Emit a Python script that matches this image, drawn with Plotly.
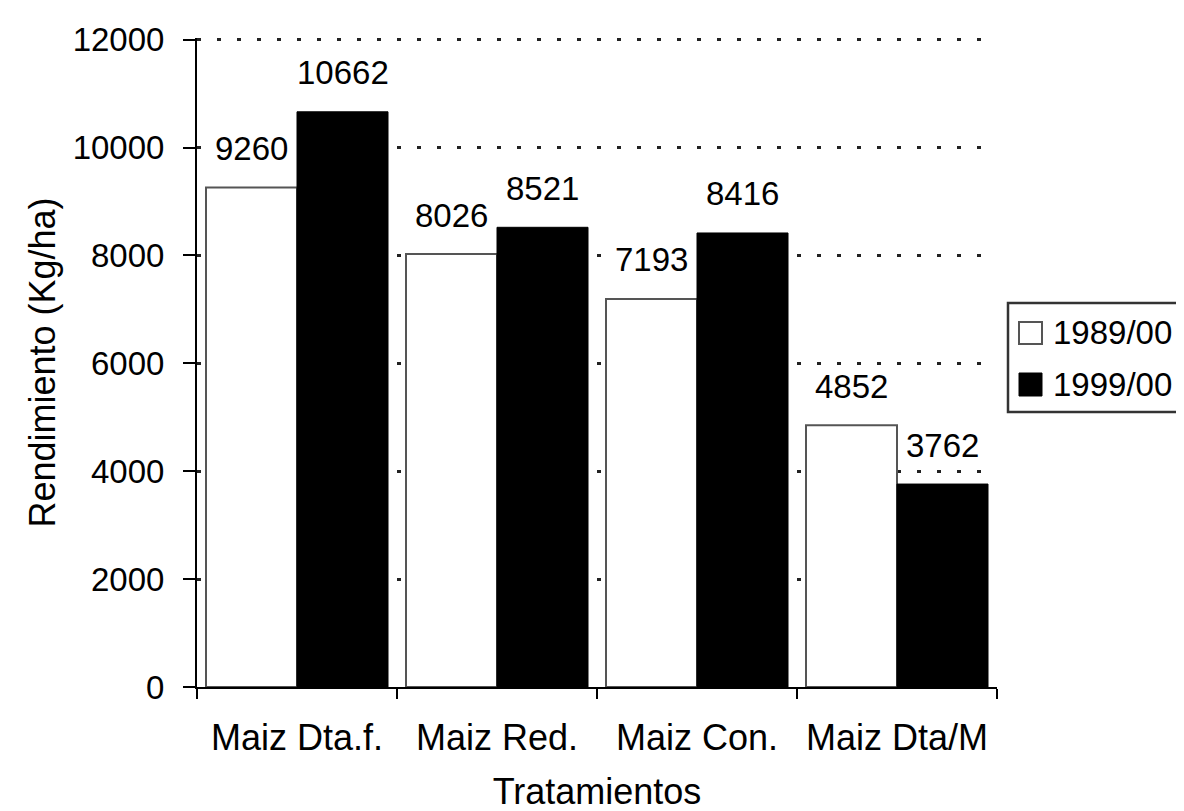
import plotly.graph_objects as go

# ---- data ----
categories = ["Maiz Dta.f.", "Maiz Red.", "Maiz Con.", "Maiz Dta/M"]
series_names = ["1989/00", "1999/00"]
values_1989 = [9260, 8026, 7193, 4852]
values_1999 = [10662, 8521, 8416, 3762]
y_ticks = [0, 2000, 4000, 6000, 8000, 10000, 12000]
y_tick_labels = ["0", "2000", "4000", "6000", "8000", "10000", "12000"]
x_title = "Tratamientos"
y_title = "Rendimiento (Kg/ha)"

# ---- style ----
FONT = "Liberation Sans, Arial, Helvetica, sans-serif"
W, H = 1184, 811
PAGE_OFF = 8  # default body margin of the html page
# target plot area in page pixels: x 197..997, y 38..687
L = 197 - PAGE_OFF
T = 38 - PAGE_OFF
R = W - (997 - PAGE_OFF)
B = H - (687 - PAGE_OFF)
Y_MAX = 12030
BARGAP = 0.09
WHITE_EDGE = "#555555"


def px_x(px):
    return (px - PAGE_OFF - L) / (W - L - R)


def px_y(py):
    return (H - B - (py - PAGE_OFF)) / (H - T - B)


fig = go.Figure()
fig.add_trace(go.Bar(
    x=categories, y=values_1989, name=series_names[0],
    marker=dict(color="white", line=dict(color=WHITE_EDGE, width=2)),
    showlegend=False,
))
fig.add_trace(go.Bar(
    x=categories, y=values_1999, name=series_names[1],
    marker=dict(color="black", line=dict(color="black", width=1)),
    showlegend=False,
))

# value labels above bars
half = (1 - BARGAP) / 4
for i in range(len(categories)):
    for off, vals in ((-half, values_1989), (half, values_1999)):
        fig.add_annotation(
            x=i + off, y=vals[i], xref="x", yref="y",
            text=str(vals[i]), showarrow=False,
            yanchor="middle", yshift=39,
            bgcolor="white", borderpad=0,
            font=dict(size=33, color="black", family=FONT),
        )

# legend (drawn manually to match the large square swatches)
shapes = [
    dict(type="rect", xref="paper", yref="paper",
         x0=px_x(1008), x1=px_x(1210), y0=px_y(412), y1=px_y(303),
         line=dict(color="#333333", width=2.5), fillcolor="white", layer="above"),
    dict(type="rect", xref="paper", yref="paper",
         x0=px_x(1019), x1=px_x(1042), y0=px_y(344), y1=px_y(322),
         line=dict(color=WHITE_EDGE, width=2), fillcolor="white", layer="above"),
    dict(type="rect", xref="paper", yref="paper",
         x0=px_x(1019), x1=px_x(1042), y0=px_y(396), y1=px_y(373),
         line=dict(color="black", width=1), fillcolor="black", layer="above"),
]
for name, cy in zip(series_names, (332, 384)):
    fig.add_annotation(
        x=px_x(1051), y=px_y(cy), xref="paper", yref="paper",
        text=name, showarrow=False, xanchor="left", yanchor="middle",
        font=dict(size=33, color="black", family=FONT),
    )

fig.update_layout(
    width=W, height=H,
    margin=dict(l=L, r=R, t=T, b=B, pad=0),
    paper_bgcolor="white", plot_bgcolor="white",
    barmode="group", bargap=BARGAP, bargroupgap=0,
    font=dict(family=FONT, color="black"),
    shapes=shapes,
    xaxis=dict(
        type="category", automargin=False,
        showline=True, linecolor="black", linewidth=2,
        ticks="outside", tickson="boundaries", ticklen=10, tickwidth=2, tickcolor="black",
        tickfont=dict(size=36, color="black", family=FONT),
        ticklabelstandoff=18,
        showgrid=False, zeroline=False,
        title=dict(text=x_title, font=dict(size=36, color="black", family=FONT), standoff=22),
    ),
    yaxis=dict(
        range=[0, Y_MAX], tickvals=y_ticks, ticktext=y_tick_labels, automargin=False,
        showline=True, linecolor="black", linewidth=2,
        ticks="outside", ticklen=12, tickwidth=2, tickcolor="black",
        tickfont=dict(size=33, color="black", family=FONT),
        ticklabelstandoff=12,
        showgrid=True, gridcolor="#222222", gridwidth=3, griddash="4px,16px",
        zeroline=False,
        title=dict(text=y_title, font=dict(size=36, color="black", family=FONT), standoff=6),
    ),
)

fig.write_html("out.html")
